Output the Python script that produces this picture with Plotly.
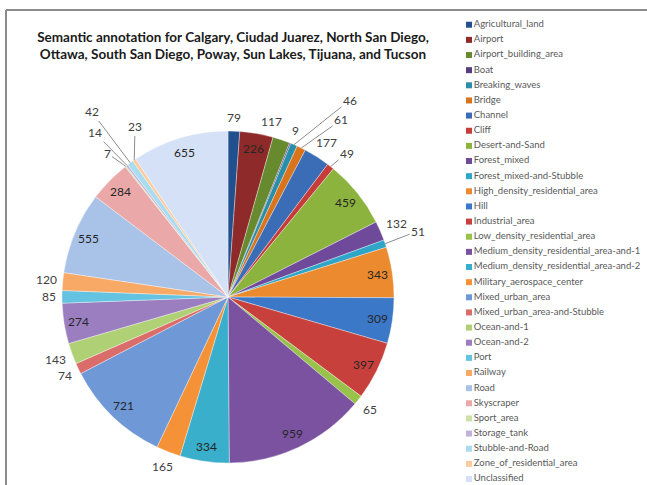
import numpy as np
import plotly.graph_objects as go

categories = [
    "Agricultural_land", "Airport", "Airport_building_area", "Boat", "Breaking_waves",
    "Bridge", "Channel", "Cliff", "Desert-and-Sand", "Forest_mixed",
    "Forest_mixed-and-Stubble", "High_density_residential_area", "Hill", "Industrial_area",
    "Low_density_residential_area", "Medium_density_residential_area-and-1",
    "Medium_density_residential_area-and-2", "Military_aerospace_center", "Mixed_urban_area",
    "Mixed_urban_area-and-Stubble", "Ocean-and-1", "Ocean-and-2", "Port", "Railway", "Road",
    "Skyscraper", "Sport_area", "Storage_tank", "Stubble-and-Road",
    "Zone_of_residential_area", "Unclassified",
]
values = [79, 226, 117, 9, 46, 61, 177, 49, 459, 132, 51, 343, 309, 397, 65, 959,
          334, 165, 721, 74, 143, 274, 85, 120, 555, 284, 7, 14, 42, 23, 655]
colors = [
    "#21508E", "#8E2A29", "#678A2F", "#573C7E", "#2A8EA8", "#D9731C",
    "#3A6DB5", "#C63C3A", "#8DB33F", "#6F4A9A", "#2FA5C8", "#EB8A2E",
    "#3C78C8", "#C8403C", "#98C24A", "#7A52A0", "#39AFCB", "#F59237",
    "#6E98D6", "#DA6C6A", "#B0D076", "#9A7EC0", "#64C3E0", "#F9A966",
    "#A9C2E8", "#EAA8A8", "#CCE0A8", "#C2B2DA", "#A8DCEE", "#FCCBA0", "#D4E1F7",
]
title_text = ("Semantic annotation for Calgary, Ciudad Juarez, North San Diego,<br>"
              "Ottawa, South San Diego, Poway, Sun Lakes, Tijuana, and Tucson")

# label placement style per slice: inside / outside / leader line
label_style = ["out", "in", "out", "out", "lead", "lead", "out", "lead", "in", "out",
               "lead", "in", "in", "in", "out", "in", "in", "out", "in", "out",
               "out", "in", "out", "out", "in", "in", "lead", "lead", "lead", "lead", "in"]
# pixel positions of the labels that hang on leader lines
leader_pos = {4: (350, 100), 5: (341, 120), 7: (347, 153), 10: (418, 231),
              26: (107, 153), 27: (95, 133), 28: (92, 112), 29: (135, 127)}
# small pixel nudges for crowded outside labels
label_nudge = {2: (-15, -3)}

W, H = 647, 485
CX, CY, R = 228, 297, 166
FONT = "Lato, Liberation Sans, Arial, sans-serif"


def px(x, y):
    return x / W, (H - y) / H


fig = go.Figure()
fig.add_trace(go.Pie(
    labels=categories, values=values, sort=False, direction="clockwise", rotation=0,
    marker=dict(colors=colors, line=dict(color="rgba(255,255,255,0.6)", width=0.6)),
    textinfo="none", hoverinfo="label+value", showlegend=False,
    domain=dict(x=[(CX - R) / W, (CX + R) / W], y=[(H - CY - R) / H, (H - CY + R) / H]),
))

vals = np.array(values, dtype=float)
total = vals.sum()
mids = (np.cumsum(vals) - vals / 2) / total * 2 * np.pi

annotations = []
for i, (v, th) in enumerate(zip(values, mids)):
    s, c = np.sin(th), np.cos(th)
    txt = str(v)
    w, h = 6.7 * len(txt), 14
    style = label_style[i]
    if style == "in":
        r = 0.91 * R
        x, y = CX + r * s, CY - r * c
        annotations.append(dict(x=px(x, y)[0], y=px(x, y)[1], xref="paper", yref="paper",
                                xanchor="center", yanchor="middle",
                                text=txt, showarrow=False,
                                font=dict(family=FONT, size=12, color="#262626")))
    elif style == "out":
        r = R + 6 + 0.5 * (abs(s) * w + abs(c) * h)
        dx, dy = label_nudge.get(i, (0, 0))
        x, y = CX + r * s + dx, CY - r * c + dy
        annotations.append(dict(x=px(x, y)[0], y=px(x, y)[1], xref="paper", yref="paper",
                                xanchor="center", yanchor="middle",
                                text=txt, showarrow=False,
                                font=dict(family=FONT, size=12, color="#404040")))
    else:
        rx, ry = CX + R * s, CY - R * c
        lx, ly = leader_pos[i]
        annotations.append(dict(x=px(rx, ry)[0], y=px(rx, ry)[1], xref="paper", yref="paper",
                                text=txt, showarrow=True, arrowhead=0, arrowwidth=1,
                                arrowcolor="#8c8c8c", standoff=0, startstandoff=0,
                                ax=lx - rx, ay=ly - ry,
                                font=dict(family=FONT, size=12, color="#404040")))

# legend drawn as a scatter on hidden axes (one row per category)
legend_rows = list(range(len(categories)))
fig.add_trace(go.Scatter(
    x=[469] * len(categories), y=legend_rows, mode="markers+text",
    text=categories, textposition="middle right",
    textfont=dict(family=FONT, size=9.5, color="#595959"),
    marker=dict(symbol="square", size=6, color=colors),
    hoverinfo="skip", showlegend=False, cliponaxis=False,
))

fig.update_layout(
    width=W, height=H, margin=dict(l=0, r=0, t=0, b=0),
    paper_bgcolor="white", plot_bgcolor="rgba(0,0,0,0)",
    xaxis=dict(range=[0, W], domain=[0, 1], visible=False, fixedrange=True),
    yaxis=dict(range=[30.396, -1.634], domain=[0, 1], visible=False, fixedrange=True),
    title=dict(text=title_text, x=233 / W, xanchor="center", y=(H - 41.5) / H, yanchor="middle",
               font=dict(family=FONT, size=13.5, color="#1a1a1a", weight="bold")),
    annotations=annotations,
    shapes=[
        dict(type="line", xref="paper", yref="paper", x0=6 / W, x1=1, y0=(H - 10) / H,
             y1=(H - 10) / H, line=dict(color="#8c8c8c", width=2)),
        dict(type="line", xref="paper", yref="paper", x0=6 / W, x1=6 / W, y0=0,
             y1=(H - 10) / H, line=dict(color="#8c8c8c", width=2)),
    ],
)

fig.write_html("out.html")
